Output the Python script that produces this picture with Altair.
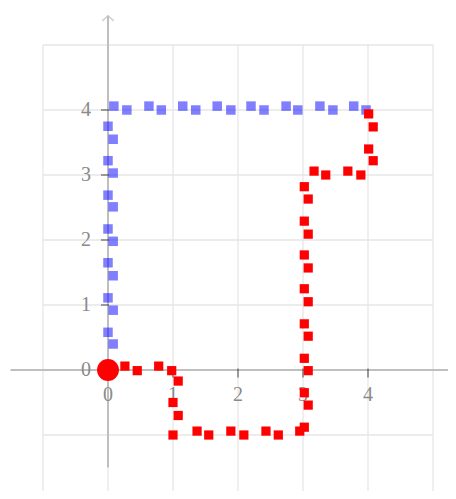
import altair as alt
import pandas as pd

# Blue path (vertical segment then top segment)
blue_x = [0.08, 0, 0.08, 0, 0.08, 0, 0.08, 0, 0.08, 0, 0.08, 0, 0.08, 0,
          0.09, 0.29, 0.63, 0.82, 1.15, 1.35, 1.68, 1.89, 2.2, 2.4, 2.74, 2.92, 3.26, 3.46, 3.78, 3.97]
blue_y = [0.4, 0.58, 0.92, 1.11, 1.45, 1.65, 1.98, 2.17, 2.51, 2.69, 3.03, 3.22, 3.55, 3.75,
          4.06, 4.0, 4.06, 4.0, 4.06, 4.0, 4.06, 4.0, 4.06, 4.0, 4.06, 4.0, 4.06, 4.0, 4.06, 4.0]

# Red path
red_x = [0.26, 0.45, 0.78, 0.98, 1.08, 1.0, 1.08, 1.0, 1.37, 1.55, 1.89, 2.09, 2.43, 2.62, 2.95,
         3.02, 3.08, 3.02, 3.08, 3.02, 3.08, 3.02, 3.08, 3.02, 3.08, 3.02, 3.08, 3.02, 3.08, 3.02,
         3.17, 3.35, 3.69, 3.89, 4.08, 4.01, 4.08, 4.01]
red_y = [0.06, -0.01, 0.06, -0.01, -0.17, -0.5, -0.7, -1.0, -0.94, -1.0, -0.94, -1.0, -0.94, -1.0, -0.94,
         -0.88, -0.54, -0.35, -0.01, 0.18, 0.52, 0.71, 1.05, 1.25, 1.57, 1.77, 2.09, 2.29, 2.63, 2.82,
         3.06, 3.0, 3.06, 3.0, 3.22, 3.4, 3.74, 3.94]

tick_values = [1, 2, 3, 4]
label_values = [0, 1, 2, 3, 4]
grid_x = [-1, 0, 1, 2, 3, 4, 5]
grid_y = [-2, -1, 0, 1, 2, 3, 4, 5]

W, H = 390, 446
xdom = [-1, 5]
ydom = [5 - H / 65, 5]

xs = alt.Scale(domain=xdom, nice=False, zero=False)
ys = alt.Scale(domain=ydom, nice=False, zero=False)


def X(f="x"):
    return alt.X(f"{f}:Q", scale=xs, axis=None)


def Y(f="y"):
    return alt.Y(f"{f}:Q", scale=ys, axis=None)


blue_df = pd.DataFrame({"x": blue_x, "y": blue_y})
red_df = pd.DataFrame({"x": red_x, "y": red_y})

vgrid = alt.Chart(pd.DataFrame({"x": grid_x})).mark_rule(color="#e6e6e6", strokeWidth=1.3).encode(
    x=X(), y=alt.value(0), y2=alt.value(H))
hgrid = alt.Chart(pd.DataFrame({"y": grid_y})).mark_rule(color="#e6e6e6", strokeWidth=1.3).encode(
    y=Y(), x=alt.value(0), x2=alt.value(W))

axes_df = pd.DataFrame({"x": [-1.5, 0], "x2": [5.6, 0], "y": [0, -1.5], "y2": [0, 5.45]})
axis_lines = alt.Chart(axes_df).mark_rule(color="#bfbfbf", strokeWidth=2, clip=False).encode(
    x=X(), x2="x2:Q", y=Y(), y2="y2:Q")

arrow = alt.Chart(pd.DataFrame({"x": [0], "y": [5.45]})).mark_point(
    shape="M-1,0.9L0,0L1,0.9", filled=False, stroke="#bfbfbf", strokeWidth=1.6, size=130, clip=False
).encode(x=X(), y=Y())

xticks = alt.Chart(pd.DataFrame({"x": tick_values, "y": [0] * 4})).mark_tick(
    orient="vertical", color="black", size=9, thickness=1, yOffset=3
).encode(x=X(), y=Y())

yticks = alt.Chart(pd.DataFrame({"x": [0] * 4, "y": tick_values})).mark_tick(
    orient="horizontal", color="black", size=8, thickness=1, xOffset=-3
).encode(x=X(), y=Y())

xlabels = alt.Chart(pd.DataFrame({"x": label_values, "y": [0] * 5, "t": [str(v) for v in label_values]})).mark_text(
    font="Liberation Serif", fontSize=20, color="#8a8a8a", dy=25, baseline="middle", align="center"
).encode(x=X(), y=Y(), text="t:N")

ylabels = alt.Chart(pd.DataFrame({"x": [0] * 5, "y": label_values, "t": [str(v) for v in label_values]})).mark_text(
    font="Liberation Serif", fontSize=20, color="#8a8a8a", dx=-17, baseline="middle", align="right"
).encode(x=X(), y=Y(), text="t:N")

blue = alt.Chart(blue_df).mark_square(color="#0000ff", opacity=0.5, size=90).encode(x=X(), y=Y())

red = alt.Chart(red_df).mark_square(color="#ff0000", opacity=1, size=85).encode(x=X(), y=Y())

origin = alt.Chart(pd.DataFrame({"x": [0], "y": [0]})).mark_circle(color="#ff0000", opacity=1, size=480).encode(
    x=X(), y=Y())

chart = alt.layer(vgrid, hgrid, axis_lines, arrow, xticks, yticks, xlabels, ylabels, blue, red, origin).properties(
    width=W, height=H,
    autosize=alt.AutoSizeParams(type="none"),
    padding={"left": 35, "top": 37, "right": 15, "bottom": 0},
).configure_view(stroke=None)

chart.save("out.html", embed_options={"renderer": "svg", "actions": False})
